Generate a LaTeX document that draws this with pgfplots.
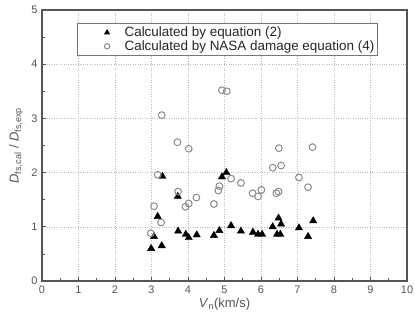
\documentclass[border=0pt]{standalone}
\usepackage{pgfplots}
\pgfplotsset{compat=1.18}
\usepackage{fontspec}
\setmainfont{Liberation Sans}
\definecolor{axgray}{HTML}{555555}
\definecolor{circgray}{HTML}{8A8A8A}
\definecolor{gridgray}{HTML}{BBBBBB}
\begin{document}
\begin{tikzpicture}[x=1bp,y=1bp]
\begin{axis}[
  scale only axis,
  width=365bp, height=271bp,
  xmin=0, xmax=10, ymin=0, ymax=5,
  xtick={0,1,...,10}, ytick={0,1,...,5},
  minor x tick num=1, minor y tick num=1,
  tick align=inside,
  xtick pos=bottom, ytick pos=left,
  major tick length=4bp, minor tick length=2.5bp,
  every tick/.style={axgray, line width=0.8bp},
  axis line style={axgray, line width=1.3bp},
  grid=major,
  major grid style={gridgray, dotted, line width=0.6bp},
  /pgf/number format/assume math mode=true,
  tick label style={font=\fontsize{11}{13}\selectfont, text=axgray},
  xticklabel style={yshift=-1bp},
  yticklabel style={xshift=-1bp},
  xlabel={\textit{V}\textsubscript{n}(km/s)},
  ylabel={\textit{D}\textsubscript{fs,cal} / \textit{D}\textsubscript{fs,exp}},
  label style={font=\fontsize{13}{15}\selectfont, text=axgray},
  xlabel style={yshift=2bp},
  ylabel style={yshift=1.5bp},
  legend style={at={(axis cs:0.95,4.76)}, anchor=north west, draw=axgray!80, line width=0.8bp,
    font=\fontsize{13.5}{16}\selectfont, text=black!85, inner xsep=3bp, inner ysep=3bp,
    nodes={inner sep=0.5bp}, row sep=1.5bp, column sep=6bp},
  legend cell align=left,
  legend image code/.code={\path[draw=none,fill=none] (0bp,0bp) -- (38bp,0bp); \draw[#1,mark size=2.7bp] plot coordinates {(27bp,0bp)};},
]
\addplot[only marks, mark=triangle*, mark size=4.2bp, black, mark options={fill=black}] coordinates {
(2.99,0.60) (3.07,0.82) (3.17,1.19) (3.28,0.65) (3.30,1.93) (3.72,1.56) (3.73,0.92)
(3.94,0.86) (4.02,0.80) (4.24,0.85) (4.71,0.84) (4.86,0.93) (4.93,1.92) (5.05,2.00)
(5.18,1.02) (5.45,0.92) (5.78,0.90) (5.92,0.86) (6.03,0.86) (6.32,1.00) (6.44,0.86)
(6.48,1.16) (6.53,0.86) (6.55,1.05) (7.04,0.98) (7.29,0.82) (7.43,1.11)
};
\addlegendentry{Calculated by equation (2)}
\addplot[only marks, mark=o, mark size=3.4bp, circgray, mark options={line width=1bp}] coordinates {
(2.98,0.88) (3.07,1.38) (3.17,1.96) (3.26,1.08) (3.28,3.06) (3.71,2.56) (3.73,1.65)
(3.93,1.37) (4.02,1.43) (4.02,2.44) (4.23,1.54) (4.71,1.42) (4.83,1.67) (4.86,1.75)
(4.93,3.52) (5.06,3.50) (5.18,1.89) (5.45,1.81) (5.77,1.62) (5.92,1.56) (6.01,1.68)
(6.32,2.09) (6.42,1.62) (6.48,1.65) (6.49,2.45) (6.55,2.13) (7.04,1.91) (7.29,1.73)
(7.41,2.47)
};
\addlegendentry{Calculated by NASA damage equation (4)\hspace{9bp}}
\end{axis}
\pgfresetboundingbox
\path (current axis.south west) ++(-42bp,-45bp) rectangle ++(415bp,326bp);
\end{tikzpicture}
\end{document}
